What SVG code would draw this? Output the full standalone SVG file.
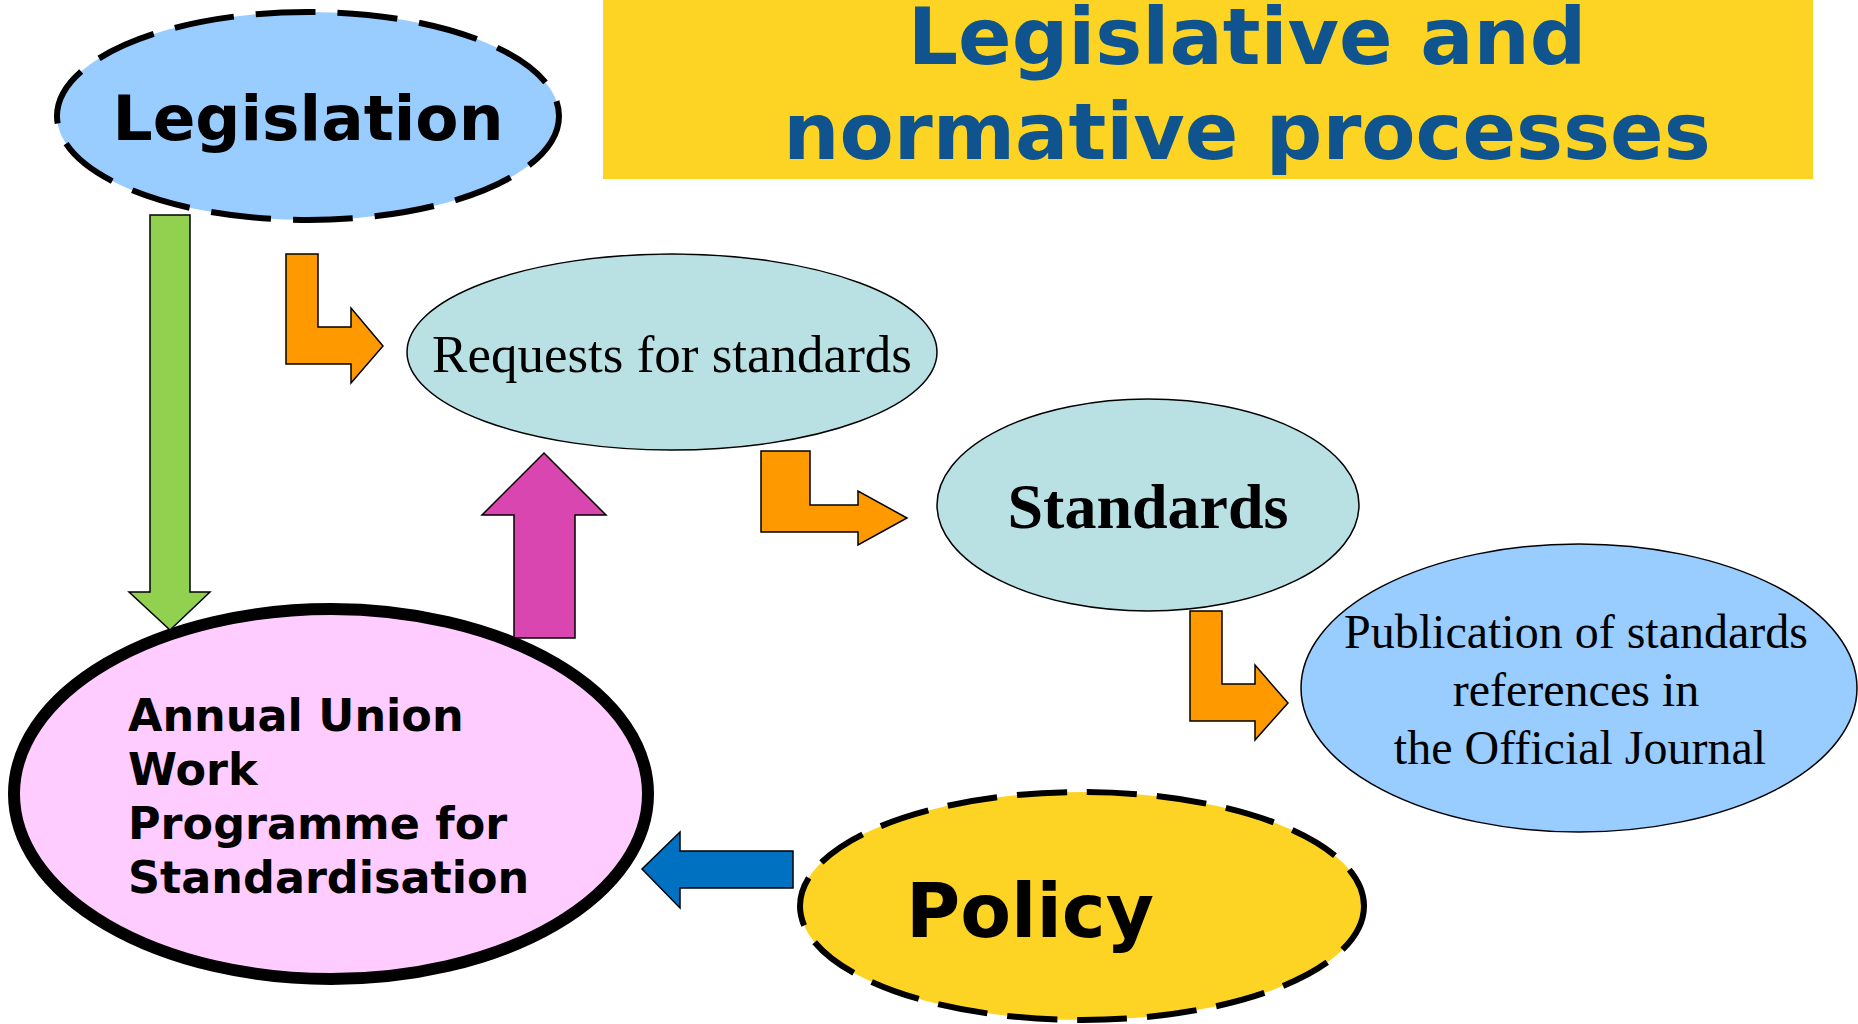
<svg xmlns="http://www.w3.org/2000/svg" width="1858" height="1024" viewBox="0 0 1858 1024">
<style>
.sans{font-family:"DejaVu Sans","Liberation Sans",sans-serif;font-weight:bold;fill:#000}
.serif{font-family:"Liberation Serif","Times New Roman",serif;fill:#000}
.dash{stroke:#000;stroke-width:6;stroke-dasharray:60 22}
.thin{stroke:#000;stroke-width:1.5}
.arr{stroke:#000;stroke-width:1.5;stroke-linejoin:miter}
</style>
<rect width="1858" height="1024" fill="#fff"/>
<g id="title">
<rect x="603" y="0" width="1210" height="179" fill="#FDD424"/>
<text class="sans" x="1247" y="64" font-size="79" text-anchor="middle" style="fill:#10548F">Legislative and</text>
<text class="sans" x="1247" y="159" font-size="79" text-anchor="middle" style="fill:#10548F">normative processes</text>
</g>
<g id="legislation">
<ellipse cx="308" cy="116" rx="251" ry="104" fill="#99CCFF" class="dash"/>
<text class="sans" x="308" y="140" font-size="63" text-anchor="middle">Legislation</text>
</g>
<g id="requests">
<ellipse cx="672" cy="352" rx="265" ry="98" fill="#B9E0E3" class="thin"/>
<text class="serif" x="672" y="372" font-size="53" text-anchor="middle">Requests for standards</text>
</g>
<g id="standards">
<ellipse cx="1148" cy="505" rx="211" ry="106" fill="#B9E0E3" class="thin"/>
<text class="serif" x="1148" y="528" font-size="64" font-weight="bold" text-anchor="middle">Standards</text>
</g>
<g id="publication">
<ellipse cx="1579" cy="688" rx="278" ry="144" fill="#99CCFF" class="thin"/>
<text class="serif" font-size="48" text-anchor="middle"><tspan x="1576" y="648">Publication of standards</tspan><tspan x="1576" y="706">references in</tspan><tspan x="1580" y="764">the Official Journal</tspan></text>
</g>
<g id="programme">
<ellipse cx="331" cy="794" rx="317" ry="185" fill="#FFCCFF" stroke="#000" stroke-width="12"/>
<text class="sans" font-size="44.5"><tspan x="128" y="731">Annual Union</tspan><tspan x="128" y="785">Work</tspan><tspan x="128" y="839">Programme for</tspan><tspan x="128" y="893">Standardisation</tspan></text>
</g>
<g id="policy">
<ellipse cx="1082" cy="906" rx="282" ry="114" fill="#FDD424" class="dash" style="stroke-dasharray:50 20"/>
<text class="sans" x="1030" y="937" font-size="74" text-anchor="middle">Policy</text>
</g>
<g id="connectors">
<polygon class="arr" fill="#92D050" points="150,215 190,215 190,592 210,592 170,630 129,592 150,592"/>
<polygon class="arr" fill="#FF9900" points="286,254 318,254 318,327 351,327 351,308 383,346 351,383 351,364 286,364"/>
<polygon class="arr" fill="#FF9900" points="761,451 810,451 810,505 858,505 858,491 907,518 858,545 858,532 761,532"/>
<polygon class="arr" fill="#FF9900" points="1190,611 1222,611 1222,684 1255,684 1255,665 1288,703 1255,740 1255,721 1190,721"/>
<polygon class="arr" fill="#D946B0" points="514,638 575,638 575,515 606,515 544,453 482,515 514,515"/>
<polygon class="arr" fill="#0070C0" points="793,851 680,851 680,832 642,869 680,908 680,888 793,888"/>
</g>
</svg>
